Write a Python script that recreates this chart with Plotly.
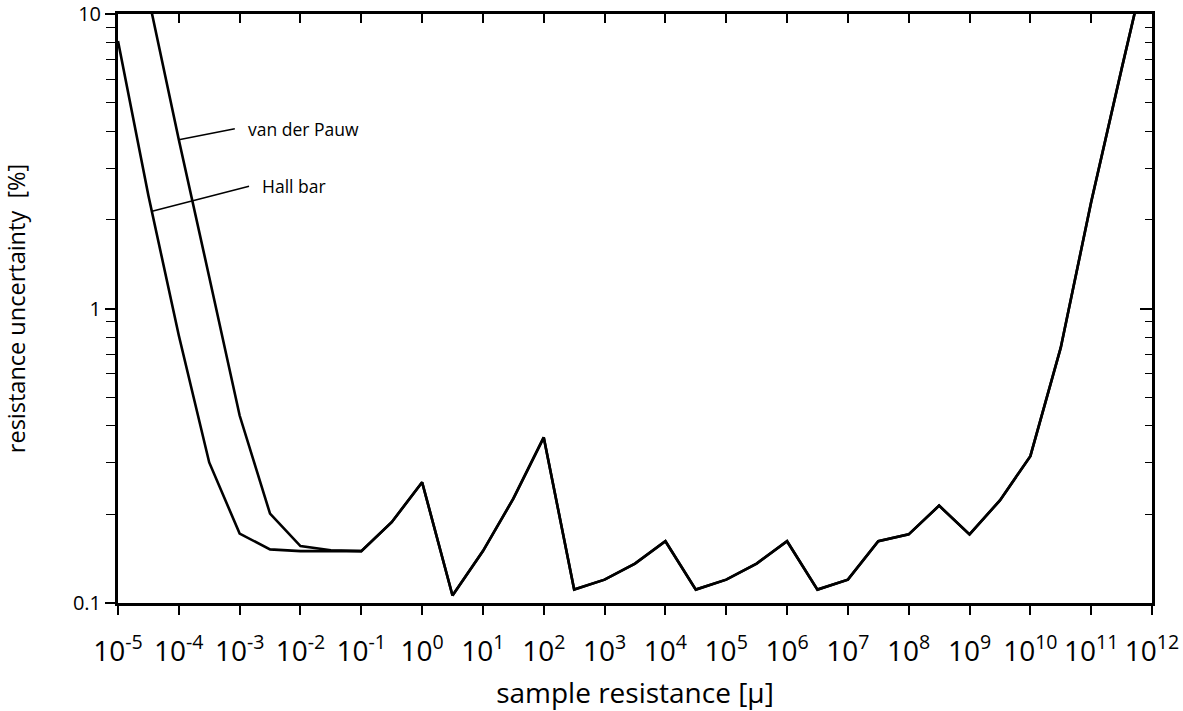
import plotly.graph_objects as go

# sample resistance (half-decade steps, 1e-5 ... 1e12)
sample_resistance = [1e-5, 3.16e-5, 1e-4, 3.16e-4, 1e-3, 3.16e-3, 1e-2, 3.16e-2,
                     1e-1, 3.16e-1, 1e0, 3.16e0, 1e1, 3.16e1, 1e2, 3.16e2,
                     1e3, 3.16e3, 1e4, 3.16e4, 1e5, 3.16e5, 1e6, 3.16e6,
                     1e7, 3.16e7, 1e8, 3.16e8, 1e9, 3.16e9, 1e10, 3.16e10,
                     1e11, 3.16e11, 1e12]

hall_bar = [8.1, 2.42, 0.81, 0.30, 0.172, 0.152, 0.150, 0.150,
            0.150, 0.188, 0.257, 0.106, 0.150, 0.226, 0.365, 0.111,
            0.120, 0.136, 0.162, 0.111, 0.120, 0.136, 0.162, 0.111,
            0.120, 0.162, 0.171, 0.214, 0.171, 0.223, 0.315, 0.736,
            2.3, 6.5, 18.0]

van_der_pauw = [35.0, 11.5, 3.74, 1.28, 0.433, 0.201, 0.156, 0.151,
                0.150, 0.188, 0.257, 0.106, 0.150, 0.226, 0.365, 0.111,
                0.120, 0.136, 0.162, 0.111, 0.120, 0.136, 0.162, 0.111,
                0.120, 0.162, 0.171, 0.214, 0.171, 0.223, 0.315, 0.736,
                2.3, 6.5, 18.0]

x_tick_vals = [1e-5, 1e-4, 1e-3, 1e-2, 1e-1, 1e0, 1e1, 1e2, 1e3, 1e4, 1e5,
               1e6, 1e7, 1e8, 1e9, 1e10, 1e11, 1e12]
x_tick_text = ["10<sup>-5</sup>", "10<sup>-4</sup>", "10<sup>-3</sup>", "10<sup>-2</sup>",
               "10<sup>-1</sup>", "10<sup>0</sup>", "10<sup>1</sup>", "10<sup>2</sup>",
               "10<sup>3</sup>", "10<sup>4</sup>", "10<sup>5</sup>", "10<sup>6</sup>",
               "10<sup>7</sup>", "10<sup>8</sup>", "10<sup>9</sup>", "10<sup>10</sup>",
               "10<sup>11</sup>", "10<sup>12</sup>"]
y_tick_vals = [0.1, 1, 10]
y_tick_text = ["0.1", "1", "10"]
y_minor_vals = [0.2, 0.3, 0.4, 0.5, 0.6, 0.7, 0.8, 0.9,
                2, 3, 4, 5, 6, 7, 8, 9]

FONT = "Open Sans"

fig = go.Figure()
fig.add_trace(go.Scatter(x=sample_resistance, y=van_der_pauw, mode="lines",
                         line=dict(color="black", width=2.6), name="van der Pauw",
                         showlegend=False))
fig.add_trace(go.Scatter(x=sample_resistance, y=hall_bar, mode="lines",
                         line=dict(color="black", width=2.6), name="Hall bar",
                         showlegend=False))
# empty trace to host the mirrored (inside-tick) axes
fig.add_trace(go.Scatter(x=[], y=[], xaxis="x2", yaxis="y2", showlegend=False,
                         hoverinfo="skip"))

YR = [-1.0002, 1.0002]

fig.update_layout(
    width=1183, height=711,
    margin=dict(l=118, r=31, t=14, b=108),
    paper_bgcolor="white", plot_bgcolor="white",
    font=dict(family=FONT, color="black"),
    xaxis=dict(type="log", range=[-5, 12], tickvals=x_tick_vals, ticktext=x_tick_text,
               ticks="outside", ticklen=9, tickwidth=1.5, tickcolor="black",
               ticklabelstandoff=12,
               showline=True, linewidth=3, linecolor="black",
               showgrid=False, zeroline=False, automargin=False,
               ticklabeloverflow="allow",
               tickfont=dict(family=FONT, size=28),
               title=dict(text="sample resistance [μ]", font=dict(family=FONT, size=28),
                          standoff=20)),
    xaxis2=dict(type="log", range=[-5, 12], overlaying="x", side="top", anchor="y",
                tickvals=x_tick_vals, showticklabels=False,
                ticks="inside", ticklen=9, tickwidth=1.5, tickcolor="black",
                showline=True, linewidth=2.5, linecolor="black",
                showgrid=False, zeroline=False, automargin=False),
    yaxis=dict(type="log", range=YR, tickvals=y_tick_vals, ticktext=y_tick_text,
               ticks="outside", ticklen=10, tickwidth=1.5, tickcolor="black",
               minor=dict(tickvals=y_minor_vals, ticks="outside", ticklen=9,
                          tickwidth=1.2, tickcolor="black", showgrid=False),
               showline=True, linewidth=3, linecolor="black",
               showgrid=False, zeroline=False, automargin=False,
               ticklabeloverflow="allow",
               tickfont=dict(family=FONT, size=20),
               title=dict(text="resistance uncertainty  [%]", font=dict(family=FONT, size=23.5),
                          standoff=46)),
    yaxis2=dict(type="log", range=YR, overlaying="y", side="right", anchor="x",
                tickvals=y_tick_vals, showticklabels=False,
                ticks="inside", ticklen=12, tickwidth=1.5, tickcolor="black",
                minor=dict(tickvals=y_minor_vals, ticks="inside", ticklen=7,
                           tickwidth=1.2, tickcolor="black", showgrid=False),
                showline=True, linewidth=2.5, linecolor="black",
                showgrid=False, zeroline=False, automargin=False),
    annotations=[
        dict(x=-4, y=0.573, xref="x", yref="y", text="van der Pauw",
             showarrow=True, arrowhead=0, arrowwidth=1.5, arrowcolor="black",
             ax=56, ay=-11, xanchor="left", yanchor="middle", borderpad=12,
             font=dict(family=FONT, size=17.5)),
        dict(x=-4.44, y=0.33, xref="x", yref="y", text="Hall bar",
             showarrow=True, arrowhead=0, arrowwidth=1.5, arrowcolor="black",
             ax=97, ay=-25, xanchor="left", yanchor="middle", borderpad=12,
             font=dict(family=FONT, size=17.5)),
    ],
)

fig.write_html("out.html", config={"displayModeBar": False},
               post_script="document.body.style.margin='0';document.body.style.overflow='hidden';")
